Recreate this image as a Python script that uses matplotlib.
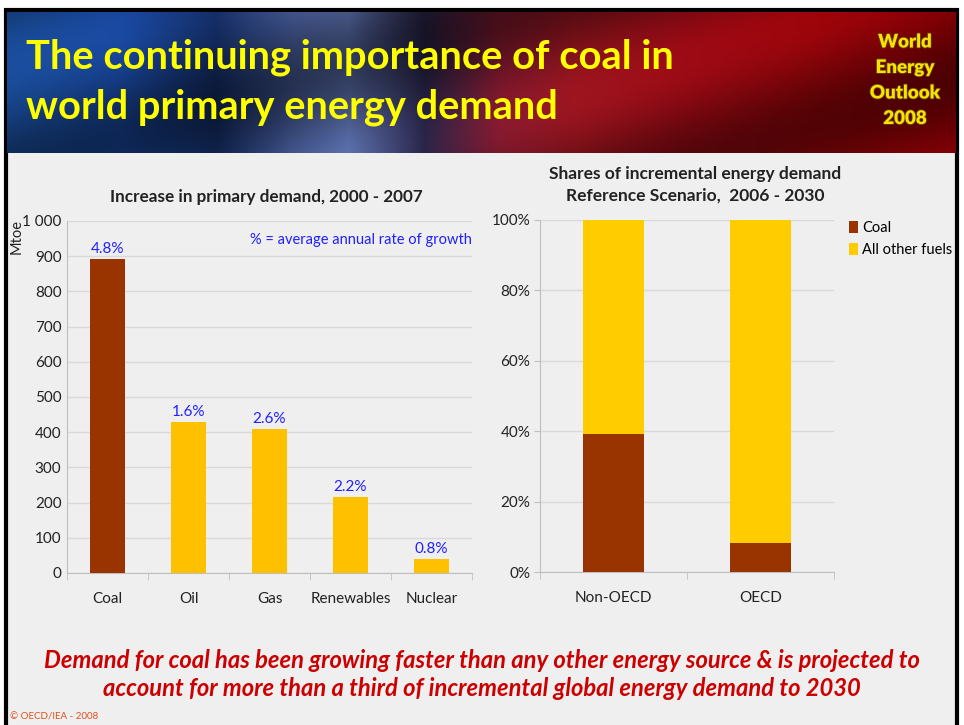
import numpy as np
import matplotlib
matplotlib.use("Agg")
import matplotlib.pyplot as plt
import matplotlib.patheffects as pe
from matplotlib.patches import Rectangle
from matplotlib.ticker import FixedLocator

# ---------------- data ----------------
fuels = ["Coal", "Oil", "Gas", "Renewables", "Nuclear"]
increase_mtoe = [893, 429, 409, 216, 40]
growth_labels = ["4.8%", "1.6%", "2.6%", "2.2%", "0.8%"]
left_yticks = [0, 100, 200, 300, 400, 500, 600, 700, 800, 900, 1000]
left_yticklabels = ["0", "100", "200", "300", "400", "500", "600", "700", "800", "900", "1 000"]

regions = ["Non-OECD", "OECD"]
coal_share = [39.2, 8.2]
other_share = [60.8, 91.8]
right_yticks = [0, 20, 40, 60, 80, 100]
right_yticklabels = ["0%", "20%", "40%", "60%", "80%", "100%"]

# ---------------- styling ----------------
W, H = 964, 725
BG = "#EFEFEF"
COAL = "#993300"
OTHER_L = "#FFC000"
OTHER_R = "#FFCC00"
GRID = "#D9D9D9"
AXC = "#BFBFBF"
FONT = ["Lato", "DejaVu Sans"]
plt.rcParams["font.family"] = FONT

fig = plt.figure(figsize=(W / 100, H / 100), dpi=100)
fig.patch.set_facecolor("white")


def fx(x):
    return x / W


def fy(y):
    return 1 - y / H


# slide background and frame
bgax = fig.add_axes([0, 0, 1, 1], zorder=-10)
bgax.set_xlim(0, W)
bgax.set_ylim(H, 0)
bgax.set_axis_off()
bgax.add_patch(Rectangle((5.5, 10), 951, 730, facecolor=BG, edgecolor="black", linewidth=3))

# header banner (decorative gradient)
hax = fig.add_axes([fx(7), fy(153), fx(949), (153 - 12) / H], zorder=-5)
nx, ny = 400, 60
xs = np.linspace(0, 1, nx)
stops_x = [0.0, 0.12, 0.22, 0.3, 0.36, 0.44, 0.52, 0.6, 0.72, 0.85, 1.0]
stops_r = [25, 25, 20, 70, 90, 40, 130, 150, 150, 150, 140]
stops_g = [75, 70, 45, 90, 110, 35, 25, 20, 10, 5, 0]
stops_b = [150, 155, 100, 150, 170, 70, 45, 30, 20, 10, 5]
r = np.interp(xs, stops_x, stops_r)
g = np.interp(xs, stops_x, stops_g)
b = np.interp(xs, stops_x, stops_b)
img = np.stack([r, g, b], axis=-1)[None, :, :].repeat(ny, axis=0) / 255.0
yy = np.linspace(0, 1, ny)[:, None, None]
shade = 0.8 + 0.25 * np.sin(yy * np.pi * 1.3 + np.linspace(0, 9, nx)[None, :, None])
img = np.clip(img * shade, 0, 1)
hax.imshow(img, aspect="auto", extent=[0, 1, 0, 1], interpolation="bilinear")
hax.set_axis_off()

fig.text(fx(26), fy(57), "The continuing importance of coal in", color="#FFFF00",
         fontsize=28.7, fontweight="bold", va="center", ha="left", family=FONT)
fig.text(fx(26), fy(107), "world primary energy demand", color="#FFFF00",
         fontsize=28.7, fontweight="bold", va="center", ha="left", family=FONT)
for i, t in enumerate(["World", "Energy", "Outlook", "2008"]):
    txt = fig.text(fx(905), fy(42 + i * 25.5), t, color="#F5E400", fontsize=13.5,
                   fontweight="heavy", ha="center", va="center", family=FONT)
    txt.set_path_effects([pe.withStroke(linewidth=1.2, foreground="#6a3a00")])

# ---------------- left chart ----------------
ax1 = fig.add_axes([fx(67), fy(573), fx(405), 352 / H])
ax1.set_facecolor(BG)
x1 = np.arange(len(fuels))
colors1 = [COAL] + [OTHER_L] * (len(fuels) - 1)
ax1.bar(x1, increase_mtoe, width=0.42, color=colors1, zorder=3)
ax1.set_xlim(-0.5, len(fuels) - 0.5)
ax1.set_ylim(0, 1000)
ax1.set_yticks(left_yticks)
ax1.set_yticklabels(left_yticklabels)
ax1.yaxis.grid(True, color=GRID, linewidth=1, zorder=0)
ax1.set_xticks(x1)
ax1.set_xticklabels(fuels)
ax1.xaxis.set_minor_locator(FixedLocator(np.arange(-0.5, len(fuels), 1.0)))
ax1.tick_params(axis="x", which="major", length=0, pad=14, labelsize=11, colors="#222222")
ax1.tick_params(axis="x", which="minor", length=5, color=AXC, direction="out")
ax1.tick_params(axis="y", length=0, labelsize=11, colors="#222222", pad=4)
for s in ["top", "right"]:
    ax1.spines[s].set_visible(False)
for s in ["left", "bottom"]:
    ax1.spines[s].set_color(AXC)
for xi, v, lab in zip(x1, increase_mtoe, growth_labels):
    ax1.text(xi, v + 8, lab, color="#2020FF", fontsize=11, ha="center", va="bottom")
ax1.text(1.0, 0.945, "% = average annual rate of growth", color="#2020FF", fontsize=10.5,
         ha="right", va="center", transform=ax1.transAxes)
fig.text(fx(17), fy(236), "Mtoe", fontsize=10.5, color="#222222", rotation=90,
         ha="center", va="center")
fig.text(fx(266), fy(197), "Increase in primary demand, 2000 - 2007", fontsize=12.3,
         fontweight="bold", ha="center", va="center", color="#222222")

# ---------------- right chart ----------------
ax2 = fig.add_axes([fx(540), fy(572), fx(294), 352 / H])
ax2.set_facecolor(BG)
x2 = np.arange(len(regions))
ax2.bar(x2, coal_share, width=0.41, color=COAL, zorder=3, label="Coal")
ax2.bar(x2, other_share, width=0.41, bottom=coal_share, color=OTHER_R, zorder=3,
        label="All other fuels")
ax2.set_xlim(-0.5, len(regions) - 0.5)
ax2.set_ylim(0, 100)
ax2.set_yticks(right_yticks)
ax2.set_yticklabels(right_yticklabels)
ax2.yaxis.grid(True, color=GRID, linewidth=1, zorder=0)
ax2.set_xticks(x2)
ax2.set_xticklabels(regions)
ax2.xaxis.set_minor_locator(FixedLocator(np.arange(-0.5, len(regions), 1.0)))
ax2.tick_params(axis="x", which="major", length=0, pad=14, labelsize=11, colors="#222222")
ax2.tick_params(axis="x", which="minor", length=5, color=AXC, direction="out")
ax2.tick_params(axis="y", length=4, color=AXC, labelsize=11, colors="#222222", pad=3)
for s in ["top", "right"]:
    ax2.spines[s].set_visible(False)
for s in ["left", "bottom"]:
    ax2.spines[s].set_color(AXC)
leg = ax2.legend(loc="upper left", bbox_to_anchor=(fx(846), fy(218)),
                 bbox_transform=fig.transFigure, frameon=False,
                 fontsize=10.5, handlelength=0.65, handleheight=0.9, handletextpad=0.25,
                 labelspacing=0.55, borderaxespad=0, borderpad=0.2)
fig.text(fx(695), fy(174), "Shares of incremental energy demand", fontsize=12.5,
         fontweight="bold", ha="center", va="center", color="#222222")
fig.text(fx(695), fy(196), "Reference Scenario,  2006 - 2030", fontsize=12.5,
         fontweight="bold", ha="center", va="center", color="#222222")

# ---------------- footer ----------------
fig.text(fx(482), fy(660), "Demand for coal has been growing faster than any other energy source & is projected to",
         color="#CC0000", fontsize=17.1, fontweight="bold", style="italic", ha="center", va="center")
fig.text(fx(482), fy(688), "account for more than a third of incremental global energy demand to 2030",
         color="#CC0000", fontsize=17.1, fontweight="bold", style="italic", ha="center", va="center")
fig.text(fx(10), fy(717), "© OECD/IEA - 2008", color="#E0501A", fontsize=7, ha="left", va="center")

fig.savefig("out.png", dpi=100, facecolor=fig.get_facecolor())
